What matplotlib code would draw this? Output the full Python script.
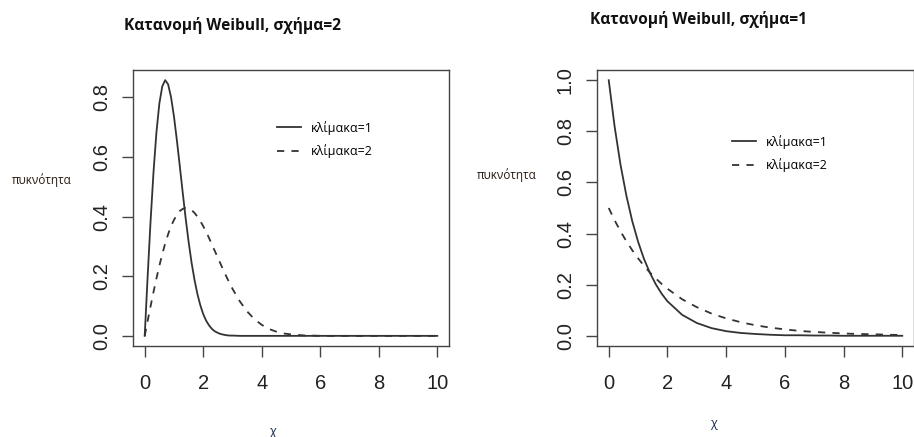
import matplotlib
matplotlib.use("Agg")
from matplotlib import pyplot as plt

# Weibull densities
# left panel: shape = 2
x_left = [0.0, 0.1, 0.2, 0.3, 0.4, 0.5, 0.6, 0.7, 0.8, 0.9, 1.0,
          1.1, 1.2, 1.3, 1.4, 1.5, 1.6, 1.7, 1.8, 1.9, 2.0,
          2.1, 2.2, 2.3, 2.4, 2.5, 2.6, 2.7, 2.8, 2.9, 3.0,
          3.25, 3.5, 3.75, 4.0, 4.25, 4.5, 4.75, 5.0, 5.25, 5.5, 5.75, 6.0,
          7.0, 8.0, 9.0, 10.0]
left_scale1 = [0.000, 0.198, 0.384, 0.548, 0.682, 0.779, 0.837, 0.858, 0.844, 0.801, 0.736,
               0.656, 0.569, 0.480, 0.394, 0.316, 0.247, 0.189, 0.141, 0.103, 0.073,
               0.051, 0.035, 0.023, 0.015, 0.010, 0.006, 0.004, 0.002, 0.001, 0.001,
               0.000, 0.000, 0.000, 0.000, 0.000, 0.000, 0.000, 0.000, 0.000, 0.000, 0.000, 0.000,
               0.000, 0.000, 0.000, 0.000]
left_scale2 = [0.000, 0.050, 0.099, 0.147, 0.192, 0.235, 0.274, 0.310, 0.341, 0.368, 0.389,
               0.406, 0.419, 0.426, 0.429, 0.427, 0.422, 0.413, 0.400, 0.385, 0.368,
               0.349, 0.328, 0.306, 0.284, 0.262, 0.240, 0.218, 0.197, 0.177, 0.158,
               0.116, 0.082, 0.056, 0.037, 0.023, 0.014, 0.008, 0.005, 0.003, 0.001, 0.001, 0.000,
               0.000, 0.000, 0.000, 0.000]

# right panel: shape = 1
x_right = [0.0, 0.2, 0.4, 0.6, 0.8, 1.0, 1.2, 1.4, 1.6, 1.8, 2.0,
           2.5, 3.0, 3.5, 4.0, 4.5, 5.0, 5.5, 6.0, 6.5, 7.0, 7.5, 8.0, 8.5, 9.0, 9.5, 10.0]
right_scale1 = [1.000, 0.819, 0.670, 0.549, 0.449, 0.368, 0.301, 0.247, 0.202, 0.165, 0.135,
                0.082, 0.050, 0.030, 0.018, 0.011, 0.007, 0.004, 0.002, 0.002, 0.001, 0.001,
                0.000, 0.000, 0.000, 0.000, 0.000]
right_scale2 = [0.500, 0.452, 0.409, 0.370, 0.335, 0.303, 0.274, 0.248, 0.225, 0.203, 0.184,
                0.143, 0.112, 0.087, 0.068, 0.053, 0.041, 0.032, 0.025, 0.019, 0.015, 0.012,
                0.009, 0.007, 0.006, 0.004, 0.003]

titles = ["Κατανομή Weibull, σχήμα=2", "Κατανομή Weibull, σχήμα=1"]
labels = ["κλίμακα=1", "κλίμακα=2"]
xticks = [0, 2, 4, 6, 8, 10]
yticks_left = [0.0, 0.2, 0.4, 0.6, 0.8]
yticks_right = [0.0, 0.2, 0.4, 0.6, 0.8, 1.0]

W, H = 914, 437
fig = plt.figure(figsize=(W / 100, H / 100), dpi=100)

def px(x, y):
    return x / W, 1 - y / H

line_col = "#333333"
txt_font = ["Open Sans", "DejaVu Sans"]

ax1 = fig.add_axes([133 / W, 1 - 346 / H, 316 / W, 276 / H])
ax2 = fig.add_axes([597 / W, 1 - 346 / H, 317 / W, 276 / H])

panels = [
    (ax1, x_left, left_scale1, left_scale2, yticks_left, (-0.034, 0.892)),
    (ax2, x_right, right_scale1, right_scale2, yticks_right, (-0.04, 1.04)),
]

for ax, xs, y1, y2, yt, ylim in panels:
    ax.plot(xs, y1, color=line_col, lw=1.3, label=labels[0])
    ax.plot(xs, y2, color=line_col, lw=1.3, ls=(0, (4, 4)), label=labels[1])
    ax.set_xlim(-0.4, 10.4)
    ax.set_ylim(*ylim)
    ax.set_xticks(xticks)
    ax.set_yticks(yt)
    ax.set_yticklabels([f"{v:.1f}" for v in yt])
    for s in ax.spines.values():
        s.set_color("#444444")
        s.set_linewidth(1.0)
    ax.tick_params(axis="both", direction="out", length=8, width=1.0,
                   color="#444444", labelsize=14.5, labelcolor="#222222")
    ax.tick_params(axis="x", pad=12)
    ax.tick_params(axis="y", pad=8, labelrotation=90)
    for lab in ax.get_yticklabels():
        lab.set_family("Liberation Sans")
        lab.set_va("center")
    for lab in ax.get_xticklabels():
        lab.set_family("Liberation Sans")

# titles
fig.text(*px(233, 25), titles[0], ha="center", va="center", fontsize=11.2,
         fontweight="bold", family=txt_font, color="#111111")
fig.text(*px(698, 19), titles[1], ha="center", va="center", fontsize=11.2,
         fontweight="bold", family=txt_font, color="#111111")

# axis labels
fig.text(*px(42, 180), "πυκνότητα", ha="center", va="center", fontsize=8.5,
         family=txt_font, color="#2a1a10")
fig.text(*px(507, 175), "πυκνότητα", ha="center", va="center", fontsize=8.5,
         family=txt_font, color="#2a1a10")
fig.text(*px(272, 432), "χ", ha="center", va="center", fontsize=9,
         family=txt_font, color="#1a2a50")
fig.text(*px(713, 424), "χ", ha="center", va="center", fontsize=9,
         family=txt_font, color="#1a2a50")

# legends
for ax, anchor in [(ax1, px(277, 121)), (ax2, px(732, 135))]:
    ax.legend(loc="upper left", bbox_to_anchor=anchor, bbox_transform=fig.transFigure,
              frameon=False, handlelength=1.9, handletextpad=0.8,
              labelspacing=0.75, borderpad=0, borderaxespad=0,
              prop={"family": txt_font, "size": 9})

fig.savefig("out.png", dpi=100)
